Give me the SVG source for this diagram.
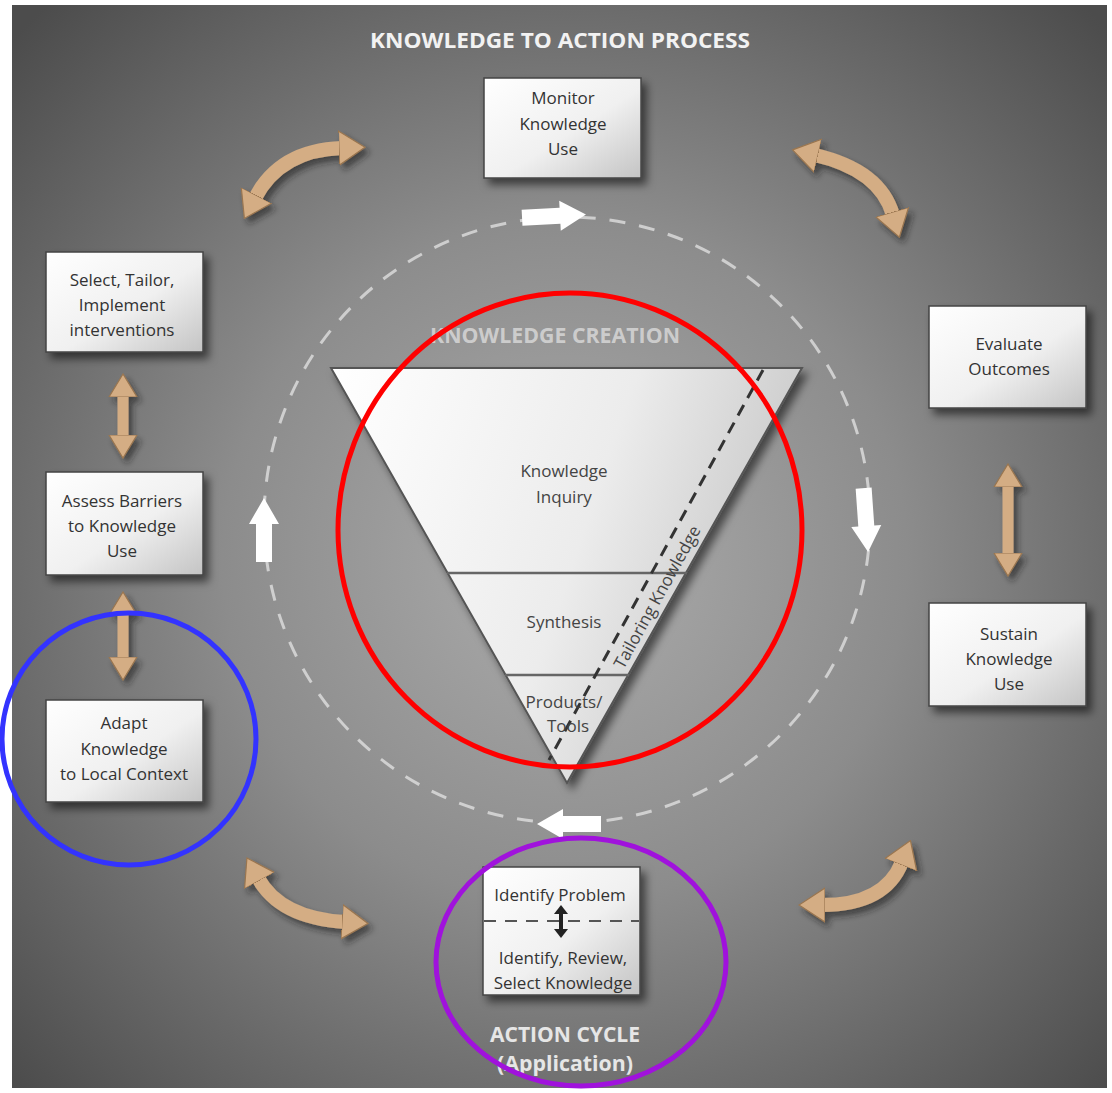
<svg xmlns="http://www.w3.org/2000/svg" width="1112" height="1093" viewBox="0 0 1112 1093">
<defs>
  <radialGradient id="bg" gradientUnits="userSpaceOnUse" cx="565" cy="560" r="760">
    <stop offset="0" stop-color="#acacac"/>
    <stop offset="0.45" stop-color="#8c8c8c"/>
    <stop offset="1" stop-color="#4c4c4c"/>
  </radialGradient>
  <linearGradient id="boxfill" x1="0" y1="0" x2="1" y2="1">
    <stop offset="0" stop-color="#ffffff"/>
    <stop offset="0.55" stop-color="#f0f0f0"/>
    <stop offset="1" stop-color="#c4c4c4"/>
  </linearGradient>
  <linearGradient id="trifill" x1="0" y1="0" x2="1" y2="0.3">
    <stop offset="0" stop-color="#ffffff"/>
    <stop offset="0.6" stop-color="#ececec"/>
    <stop offset="1" stop-color="#c8c8c8"/>
  </linearGradient>
  <filter id="shadow" x="-30%" y="-30%" width="170%" height="170%">
    <feDropShadow dx="5" dy="6" stdDeviation="4" flood-color="#000" flood-opacity="0.55"/>
  </filter>
  <filter id="soft" x="-30%" y="-30%" width="170%" height="170%">
    <feDropShadow dx="4" dy="5" stdDeviation="3" flood-color="#1a1a1a" flood-opacity="0.6"/>
  </filter>
  <marker id="tanHead" viewBox="0 -18 27 36" refX="3" refY="0" markerUnits="userSpaceOnUse" markerWidth="27" markerHeight="36" orient="auto-start-reverse">
    <path d="M0,-17 L26,0 L0,17 z" fill="#d4ad84" stroke="#9a7650" stroke-width="1.2"/>
  </marker>
  <marker id="tanHeadS" viewBox="0 -15 24 30" refX="3" refY="0" markerUnits="userSpaceOnUse" markerWidth="24" markerHeight="30" orient="auto-start-reverse">
    <path d="M0,-14 L23,0 L0,14 z" fill="#d4ad84" stroke="#9a7650" stroke-width="1.2"/>
  </marker>
  <marker id="blackHead" viewBox="0 -7 9 14" refX="1" refY="0" markerUnits="userSpaceOnUse" markerWidth="9" markerHeight="14" orient="auto-start-reverse">
    <path d="M0,-7 L9,0 L0,7 z" fill="#222"/>
  </marker>
  <path id="whiteArrow" d="M-34,-8 L4,-8 L4,-15 L30,0 L4,15 L4,8 L-34,8 z"/>
  <style>
    .box { fill: url(#boxfill); stroke: #444; stroke-width: 1.5; filter: url(#shadow); }
    .bt { font-family: "Open Sans", "Liberation Sans", sans-serif; font-size: 17px; fill: #333; text-anchor: middle; }
    .tt { font-family: "Open Sans", "Liberation Sans", sans-serif; font-size: 17px; fill: #444; text-anchor: middle; }
    .head { font-family: "Open Sans", "Liberation Sans", sans-serif; font-weight: 700; text-anchor: middle; }
    .tan { fill: none; stroke: #d4ad84; stroke-width: 14; marker-start: url(#tanHead); marker-end: url(#tanHead); }
    .tanv { fill: none; stroke: #d4ad84; stroke-width: 11; marker-start: url(#tanHeadS); marker-end: url(#tanHeadS); }
    .wa { fill: #ffffff; }
  </style>
</defs>

<rect x="0" y="0" width="1112" height="1093" fill="#ffffff"/>
<rect x="12" y="5" width="1095" height="1083" fill="url(#bg)"/>

<text class="head" x="560" y="48" font-size="22" fill="#f2f2f2" textLength="380" lengthAdjust="spacingAndGlyphs">KNOWLEDGE TO ACTION PROCESS</text>

<!-- dashed cycle circle -->
<g id="cycle-ring">
  <circle cx="567" cy="520" r="303" fill="none" stroke="#e4e4e4" stroke-opacity="0.75" stroke-width="3" stroke-dasharray="16 14"/>
  <use href="#whiteArrow" class="wa" transform="translate(556,216) rotate(-3)"/>
  <use href="#whiteArrow" class="wa" transform="translate(866,522) rotate(86)"/>
  <use href="#whiteArrow" class="wa" transform="translate(567,824) rotate(180)"/>
  <use href="#whiteArrow" class="wa" transform="translate(264,528) rotate(-90)"/>
</g>

<!-- Knowledge creation funnel -->
<g id="knowledge-creation">
  <text class="head" x="555" y="343" font-size="22" fill="#dcdcdc" fill-opacity="0.8" textLength="250" lengthAdjust="spacingAndGlyphs">KNOWLEDGE CREATION</text>
  <polygon points="331,368 802,368 567,783" fill="url(#trifill)" stroke="#555" stroke-width="2" filter="url(#shadow)"/>
  <line x1="447" y1="573" x2="687" y2="573" stroke="#666" stroke-width="2.5"/>
  <line x1="505" y1="675" x2="629" y2="675" stroke="#666" stroke-width="2.5"/>
  <line x1="763" y1="370" x2="549" y2="760" stroke="#333" stroke-width="3" stroke-dasharray="12 8"/>
  <text class="tt" x="564" y="477">Knowledge</text>
  <text class="tt" x="564" y="503">Inquiry</text>
  <text class="tt" x="564" y="628">Synthesis</text>
  <text class="tt" x="564" y="708">Products/</text>
  <text class="tt" x="568" y="732">Tools</text>
  <text class="tt" transform="translate(657,597) rotate(-61)" y="6">Tailoring Knowledge</text>
</g>

<!-- nodes -->
<g id="monitor">
  <rect class="box" x="484" y="78" width="157" height="100"/>
  <text class="bt" x="563" y="104">Monitor</text>
  <text class="bt" x="563" y="130">Knowledge</text>
  <text class="bt" x="563" y="155">Use</text>
</g>
<g id="select">
  <rect class="box" x="46" y="252" width="157" height="100"/>
  <text class="bt" x="122" y="286">Select, Tailor,</text>
  <text class="bt" x="122" y="311">Implement</text>
  <text class="bt" x="122" y="336">interventions</text>
</g>
<g id="assess">
  <rect class="box" x="46" y="472" width="157" height="103"/>
  <text class="bt" x="122" y="507">Assess Barriers</text>
  <text class="bt" x="122" y="532">to Knowledge</text>
  <text class="bt" x="122" y="557">Use</text>
</g>
<g id="adapt">
  <rect class="box" x="46" y="700" width="157" height="102"/>
  <text class="bt" x="124" y="729">Adapt</text>
  <text class="bt" x="124" y="755">Knowledge</text>
  <text class="bt" x="124" y="780">to Local Context</text>
</g>
<g id="evaluate">
  <rect class="box" x="929" y="306" width="157" height="102"/>
  <text class="bt" x="1009" y="350">Evaluate</text>
  <text class="bt" x="1009" y="375">Outcomes</text>
</g>
<g id="sustain">
  <rect class="box" x="929" y="603" width="157" height="103"/>
  <text class="bt" x="1009" y="640">Sustain</text>
  <text class="bt" x="1009" y="665">Knowledge</text>
  <text class="bt" x="1009" y="690">Use</text>
</g>
<g id="identify">
  <rect class="box" x="483" y="867" width="157" height="128"/>
  <text class="bt" x="560" y="901">Identify Problem</text>
  <line x1="484" y1="921" x2="639" y2="921" stroke="#555" stroke-width="2" stroke-dasharray="12 9"/>
  <line x1="561" y1="913" x2="561" y2="930" stroke="#222" stroke-width="4" marker-start="url(#blackHead)" marker-end="url(#blackHead)"/>
  <text class="bt" x="563" y="964">Identify, Review,</text>
  <text class="bt" x="563" y="989">Select Knowledge</text>
  <text class="head" x="565" y="1042" font-size="22" fill="#e6e6e6" textLength="150" lengthAdjust="spacingAndGlyphs" font-weight="400">ACTION CYCLE</text>
  <text class="head" x="565" y="1071" font-size="22" fill="#e6e6e6" textLength="136" lengthAdjust="spacingAndGlyphs" font-weight="400">(Application)</text>
</g>

<!-- connectors -->
<g id="connectors" filter="url(#soft)">
  <path class="tan" d="M255,198 Q280,150 342,148"/>
  <path class="tan" d="M815,155 Q880,170 893,215"/>
  <path class="tan" d="M258,878 Q280,918 345,922"/>
  <path class="tan" d="M822,905 Q885,905 902,862"/>
  <path class="tanv" d="M123,394 L123,438"/>
  <path class="tanv" d="M123,612 L123,660"/>
  <path class="tanv" d="M1008,484 L1008,556"/>
</g>

<!-- annotation ellipses -->
<g id="annotations" fill="none" stroke-width="5">
  <ellipse cx="570" cy="530" rx="232" ry="237" stroke="#ff0000"/>
  <ellipse cx="129" cy="739" rx="127" ry="126" stroke="#3333ff"/>
  <ellipse cx="581" cy="962" rx="145" ry="124" stroke="#a012dc"/>
</g>
</svg>
